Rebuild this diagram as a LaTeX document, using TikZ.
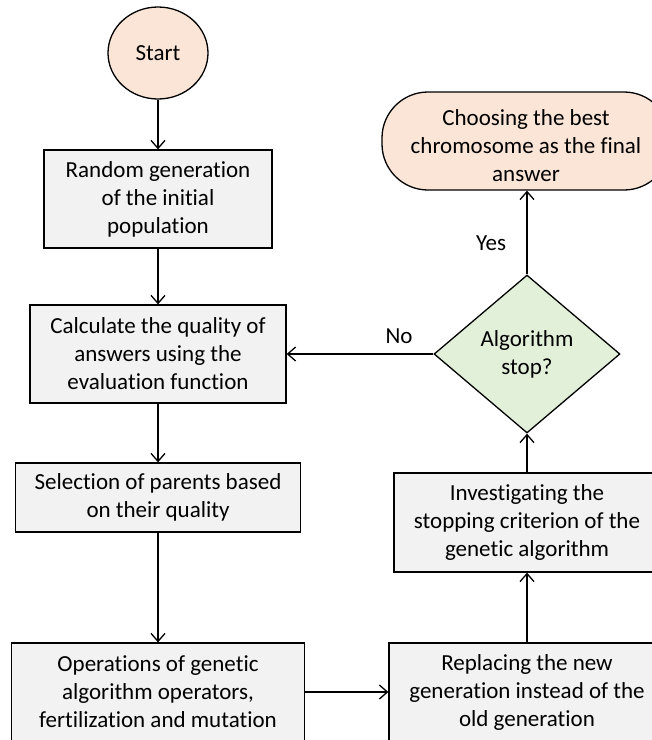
\documentclass[tikz,border=0pt]{standalone}
\usepackage{fontspec}
\setmainfont{Carlito}[RawFeature={-liga}]
\usetikzlibrary{arrows.meta,shapes.geometric}
\definecolor{peach}{HTML}{FBE5D6}
\definecolor{lgreen}{HTML}{E2F0D9}
\definecolor{lgray}{HTML}{F2F2F2}
\begin{document}
\begin{tikzpicture}[x=1pt,y=-1pt,
  font=\fontsize{23}{28}\selectfont,
  box/.style={draw=black,line width=1.3pt,fill=lgray,align=center,inner sep=0pt},
  conn/.style={line width=1.3pt,-{Straight Barb[length=8pt,width=14pt,line width=1.3pt]}},
  lbl/.style={inner sep=0pt}]
\useasboundingbox (0,0) rectangle (652,740);
\clip (0,0) rectangle (652,740);
\node[ellipse,draw=black,line width=1.3pt,fill=peach,minimum width=100pt,minimum height=92pt,inner sep=0pt] (start) at (158,53) {Start};
\node[box,minimum width=228pt,minimum height=98pt] (b1) at (158,199) {Random generation\\of the initial\\population};
\node[box,minimum width=256pt,minimum height=98pt] (b2) at (158,354) {Calculate the quality of\\answers using the\\evaluation function};
\node[box,minimum width=285pt,minimum height=69pt] (b3) at (158,497.5) {Selection of parents based\\on their quality};
\node[box,minimum width=293pt,minimum height=98pt] (b4) at (158,692) {Operations of genetic\\algorithm operators,\\fertilization and mutation};
\node[box,minimum width=276pt,minimum height=98pt] (b5) at (527,692) {Replacing the new\\generation instead of the\\old generation};
\node[box,minimum width=266pt,minimum height=99pt] (b6) at (527,522.5) {Investigating the\\stopping criterion of the\\genetic algorithm};
\node[diamond,draw=black,line width=1.3pt,fill=lgreen,minimum width=186pt,minimum height=158pt,aspect=1.18,inner sep=0pt,align=center] (dia) at (527,354) {Algorithm\\stop?};
\node[draw=black,line width=1.3pt,fill=peach,rounded corners=46pt,minimum width=288pt,minimum height=98pt,inner sep=0pt,align=center] (term) at (526,141) {\rule{0pt}{26pt}Choosing the best\\chromosome as the final\\answer};
\draw[conn] (start) -- (b1);
\draw[conn] (b1) -- (b2);
\draw[conn] (b2) -- (b3);
\draw[conn] (b3) -- (b4);
\draw[conn] (b4) -- (b5);
\draw[conn] (b5) -- (b6);
\draw[conn] (b6) -- (dia);
\draw[conn] (dia.north) -- (dia.north |- term.south);
\draw[conn] (dia.west) -- (dia.west -| b2.east);
\node[lbl] (yes) at (491,243) {Yes};
\node[lbl] (no) at (399,336) {No};
\end{tikzpicture}
\end{document}
